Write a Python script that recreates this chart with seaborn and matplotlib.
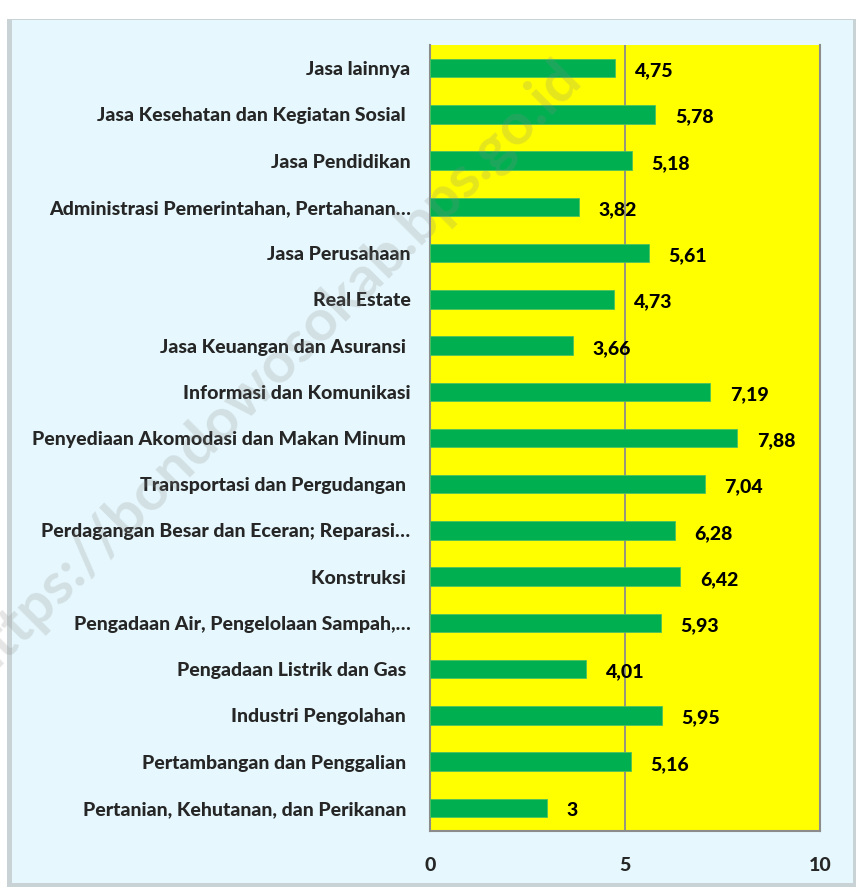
import matplotlib
matplotlib.use("Agg")
import matplotlib.pyplot as plt
import seaborn as sns
import pandas as pd
from matplotlib.patches import Rectangle
from matplotlib.ticker import FixedLocator

# data, top to bottom as in the chart
sectors = [
    "Jasa lainnya",
    "Jasa Kesehatan dan Kegiatan Sosial ",
    "Jasa Pendidikan",
    "Administrasi Pemerintahan, Pertahanan…",
    "Jasa Perusahaan",
    "Real Estate",
    "Jasa Keuangan dan Asuransi ",
    "Informasi dan Komunikasi",
    "Penyediaan Akomodasi dan Makan Minum ",
    "Transportasi dan Pergudangan ",
    "Perdagangan Besar dan Eceran; Reparasi…",
    "Konstruksi ",
    "Pengadaan Air, Pengelolaan Sampah,…",
    "Pengadaan Listrik dan Gas ",
    "Industri Pengolahan ",
    "Pertambangan dan Penggalian ",
    "Pertanian, Kehutanan, dan Perikanan ",
]
growth = [4.75, 5.78, 5.18, 3.82, 5.61, 4.73, 3.66, 7.19, 7.88, 7.04,
          6.28, 6.42, 5.93, 4.01, 5.95, 5.16, 3.00]
x_ticks = [0, 5, 10]

df = pd.DataFrame({"sektor": sectors, "nilai": growth})

sns.set_style("white")
plt.rcParams["font.family"] = ["Lato", "DejaVu Sans"]
FW = "black"
FS = 14

fig = plt.figure(figsize=(8.61, 8.90), dpi=100)
fig.patch.set_facecolor("white")

# frame with a soft shadow like the excel chart area
W, H = 861, 890
fig.patches.append(Rectangle((7 / W, 3 / H), 849 / W, 868 / H, transform=fig.transFigure,
                             facecolor="#c9d3d6", edgecolor="none", zorder=-5))
fig.patches.append(Rectangle((12 / W, 7 / H), 841 / W, 863 / H, transform=fig.transFigure,
                             facecolor="#e6f8fd", edgecolor="none", zorder=-4))

ax = fig.add_axes([430 / W, 1 - 831 / H, 390 / W, 786 / H])
ax.set_facecolor("#ffff00")

sns.barplot(data=df, x="nilai", y="sektor", orient="h", color="#00b050",
            saturation=1, width=0.4, ax=ax, zorder=3)
for p in ax.patches:
    p.set_edgecolor("#4dc060")
    p.set_linewidth(0.6)

labels = [f"{v:g}".replace(".", ",") for v in growth]
texts = ax.bar_label(ax.containers[0], labels=labels, padding=14, fontsize=FS,
                     fontweight=FW, color="black")
for t in texts:
    t.xyann = (14, -2)

ax.set_xlim(0, 10)
ax.set_ylim(len(sectors) - 0.5, -0.5)
ax.set_xticks(x_ticks)
ax.set_xticklabels([str(t) for t in x_ticks], fontsize=FS, fontweight=FW)
ax.tick_params(axis="x", length=7, width=1.3, color="#8c8c8c", pad=12)
ax.axvline(5, color="#8c8c8c", linewidth=1.3, zorder=2)

# category labels, ticks between categories
ax.tick_params(axis="y", which="major", length=0, pad=14, labelsize=FS)
ax.yaxis.set_minor_locator(FixedLocator([i - 0.5 for i in range(len(sectors) + 1)]))
ax.tick_params(axis="y", which="minor", length=8, width=1.3, color="#8c8c8c")
for t in ax.get_yticklabels():
    t.set_fontweight(FW)

ax.set_xlabel("")
ax.set_ylabel("")
for side in ["left", "bottom", "right"]:
    ax.spines[side].set_color("#8c8c8c")
    ax.spines[side].set_linewidth(1.5)
ax.spines["top"].set_visible(False)

# watermark
fig.text(0.315, 0.585, "https://bondowosokab.bps.go.id", rotation=45,
         fontsize=42, fontweight="bold", color="#8a8a8a", alpha=0.22,
         ha="center", va="center", zorder=10)

fig.savefig("out.png", dpi=100, facecolor=fig.get_facecolor())
